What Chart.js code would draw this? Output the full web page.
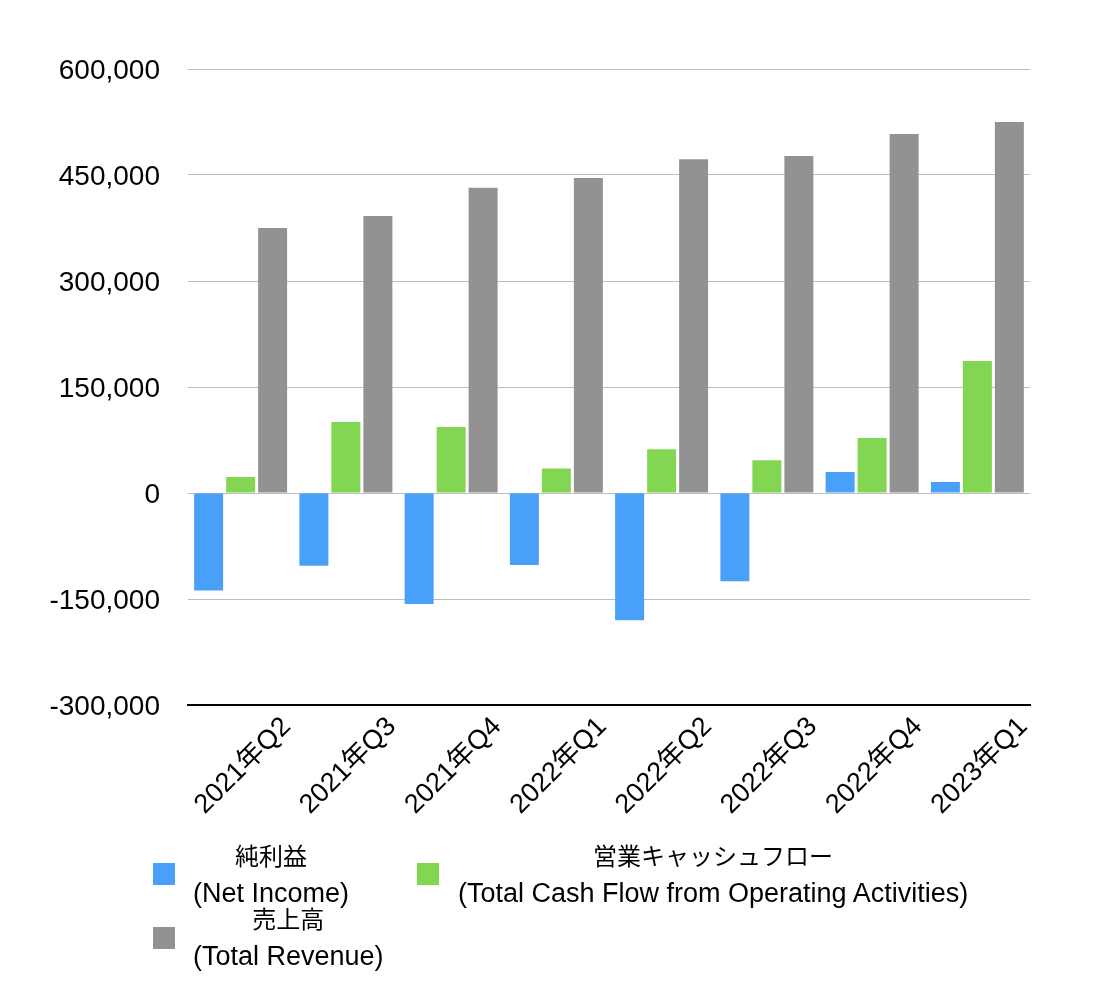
<!DOCTYPE html>
<html>
<head>
<meta charset="utf-8">
<script src="https://cdn.jsdelivr.net/npm/chart.js@4"></script>
<style>
  body { margin: 0; background: #fff; }
  #wrap { position: relative; width: 1114px; height: 988px; }
  .legend-item { position: absolute; font-family: "Liberation Sans", Arial, "Noto Sans CJK JP", sans-serif; color: #000; }
  .legend-item .box { position: absolute; width: 22px; height: 22px; }
  .legend-item .txt { position: absolute; text-align: center; white-space: nowrap; }
  .legend-item .l1 { font-size: 24px; line-height: 37px; }
  .legend-item .l2 { font-size: 27px; line-height: 37px; }
</style>
</head>
<body>
<div id="wrap">
  <canvas id="myBarChart" width="1114" height="988"></canvas>
</div>
<script>
  const quarters = ['2021年Q2', '2021年Q3', '2021年Q4', '2022年Q1', '2022年Q2', '2022年Q3', '2022年Q4', '2023年Q1'];
  const netIncome = [-138000, -103000, -157000, -102000, -180000, -125000, 29700, 15600];
  const operatingCashFlow = [22600, 100500, 93400, 34600, 61900, 46300, 78000, 186700];
  const totalRevenue = [375000, 392000, 432000, 445600, 472400, 476800, 508000, 525000];
  const seriesNames = [['純利益', '(Net Income)'], ['営業キャッシュフロー', '(Total Cash Flow from Operating Activities)'], ['売上高', '(Total Revenue)']];
  const seriesColors = ['#48a0f8', '#83d652', '#929292'];

  const font = "'Liberation Sans', Arial, 'Noto Sans CJK JP', sans-serif";

  const ctx = document.getElementById('myBarChart').getContext('2d');
  const myBarChart = new Chart(ctx, {
    type: 'bar',
    data: {
      labels: quarters,
      datasets: [netIncome, operatingCashFlow, totalRevenue].map((d, i) => ({
        label: seriesNames[i].join(' '),
        data: d,
        backgroundColor: seriesColors[i],
        categoryPercentage: 0.912,
        barPercentage: 0.906,
      }))
    },
    options: {
      responsive: false,
      animation: false,
      layout: { padding: { left: 0, right: 84, top: 69, bottom: 0 } },
      plugins: {
        legend: { display: false },
        tooltip: { enabled: false },
      },
      scales: {
        x: {
          grid: { display: false, drawTicks: false },
          border: { color: '#000', width: 2 },
          ticks: {
            font: { family: font, size: 27 },
            color: '#000',
            minRotation: 45,
            maxRotation: 45,
            labelOffset: 46,
            padding: 6,
          },
          afterFit: (scale) => { scale.height = 283; },
        },
        y: {
          min: -300000,
          max: 600000,
          grid: { color: '#bdbdbd', lineWidth: 1, drawTicks: false },
          border: { display: false },
          ticks: {
            stepSize: 150000,
            font: { family: font, size: 28 },
            color: '#000',
            padding: 28,
            labelOffset: 2,
            callback: (v) => v.toLocaleString('en-US'),
          },
          afterFit: (scale) => { scale.width = 188; },
        },
      }
    }
  });

  // legend as HTML, two lines per entry
  const legendPos = [
    { bx: 153, by: 863, tx: 193, ty: 838 },
    { bx: 417, by: 863, tx: 458, ty: 838 },
    { bx: 153, by: 927, tx: 193, ty: 901 },
  ];
  const wrap = document.getElementById('wrap');
  seriesNames.forEach((lines, i) => {
    const p = legendPos[i];
    const item = document.createElement('div');
    item.className = 'legend-item';
    item.style.left = '0px';
    item.style.top = '0px';
    const box = document.createElement('div');
    box.className = 'box';
    box.style.left = p.bx + 'px';
    box.style.top = p.by + 'px';
    box.style.background = seriesColors[i];
    const txt = document.createElement('div');
    txt.className = 'txt';
    txt.style.left = p.tx + 'px';
    txt.style.top = p.ty + 'px';
    txt.innerHTML = '<div class="l1">' + lines[0] + '</div><div class="l2">' + lines[1] + '</div>';
    item.appendChild(box);
    item.appendChild(txt);
    wrap.appendChild(item);
  });
</script>
</body>
</html>
